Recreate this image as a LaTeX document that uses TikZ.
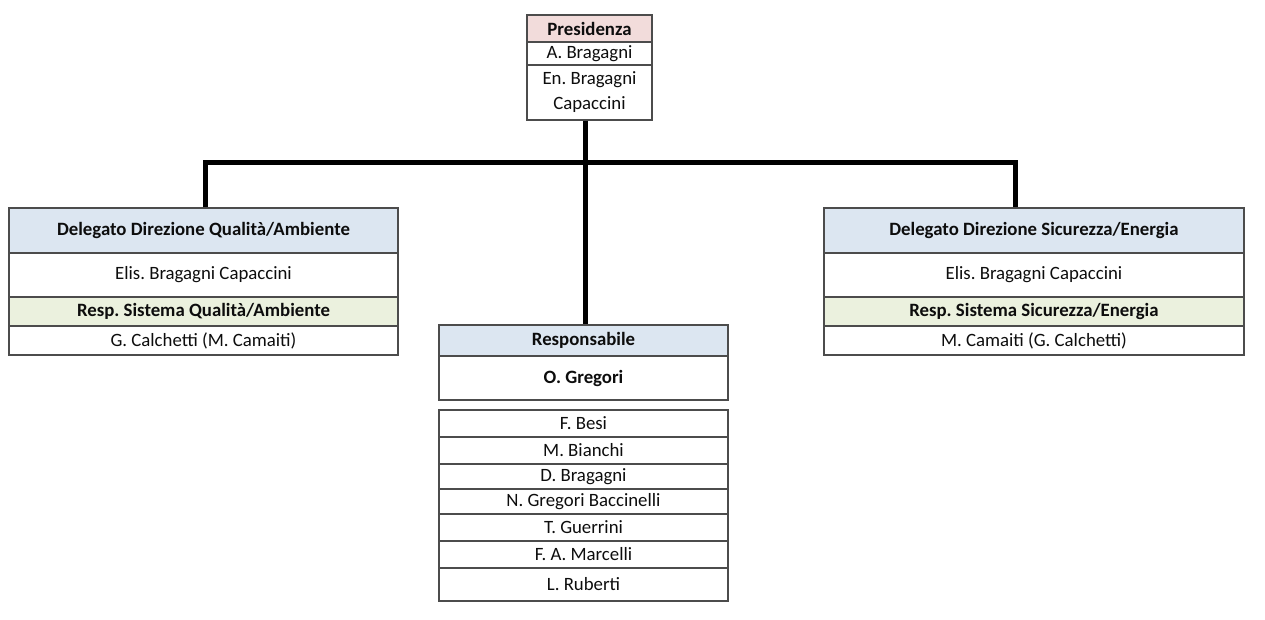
\documentclass[tikz,border=0pt]{standalone}
\usepackage{fontspec}
\setmainfont{Carlito}
\usepackage{xcolor}
\usepackage{tikz}
\frenchspacing
\definecolor{presred}{HTML}{F2DCDB}
\definecolor{headblue}{HTML}{DCE6F1}
\definecolor{respgreen}{HTML}{EBF1DE}
\tikzset{
	cell/.style={draw=black!70, line width=0.8pt, inner sep=0pt, align=center,
		text=black!95, font=\fontsize{14.1}{18.75}\selectfont},
	bcell/.style={cell, font=\fontsize{14.1}{18.75}\selectfont\bfseries},
	link/.style={line width=3.75pt}
}
\begin{document}
\begin{tikzpicture}[x=0.75pt,y=-0.75pt]
		\useasboundingbox (0,0) rectangle (1265,620);
		% presidenza
		\node[bcell,fill=presred,minimum width=93.75pt,minimum height=20.25pt] (pres1) at (589.5,28.5) {Presidenza};
		\node[cell,minimum width=93.75pt,minimum height=17.25pt] (pres2) at (589.5,53.5) {A. Bragagni};
		\node[cell,minimum width=93.75pt,minimum height=41.25pt] (pres3) at (589.5,92.5) {En. Bragagni\\Capaccini};
		%
		\node[bcell,fill=headblue,minimum width=291.75pt,minimum height=33.75pt] (qa1) at (203.5,230.5) {Delegato Direzione Qualità/Ambiente};
		\node[cell,minimum width=291.75pt,minimum height=33pt] (qa2) at (203.5,275) {Elis. Bragagni Capaccini};
		\node[bcell,fill=respgreen,minimum width=291.75pt,minimum height=21.75pt] (qa3) at (203.5,311.5) {Resp. Sistema Qualità/Ambiente};
		\node[cell,minimum width=291.75pt,minimum height=21.75pt] (qa4) at (203.5,340.5) {G. Calchetti (M. Camaiti)};
		%
		\node[bcell,fill=headblue,minimum width=315pt,minimum height=33.75pt] (se1) at (1034,230.5) {Delegato Direzione Sicurezza/Energia};
		\node[cell,minimum width=315pt,minimum height=33pt] (se2) at (1034,275) {Elis. Bragagni Capaccini};
		\node[bcell,fill=respgreen,minimum width=315pt,minimum height=21.75pt] (se3) at (1034,311.5) {Resp. Sistema Sicurezza/Energia};
		\node[cell,minimum width=315pt,minimum height=21.75pt] (se4) at (1034,340.5) {M. Camaiti (G. Calchetti)};
		%
		\node[bcell,fill=headblue,minimum width=216.75pt,minimum height=23.25pt] (resp1) at (583.5,340.5) {Responsabile};
		\node[bcell,minimum width=216.75pt,minimum height=33pt] (resp2) at (583.5,378) {O. Gregori};
		%
		\node[cell,minimum width=216.75pt,minimum height=20.25pt] (op1) at (583.5,423.5) {F. Besi};
		\node[cell,minimum width=216.75pt,minimum height=20.25pt] (op2) at (583.5,450.5) {M. Bianchi};
		\node[cell,minimum width=216.75pt,minimum height=18.75pt] (op3) at (583.5,476.5) {D. Bragagni};
		\node[cell,minimum width=216.75pt,minimum height=18.75pt] (op4) at (583.5,501.5) {N. Gregori Baccinelli};
		\node[cell,minimum width=216.75pt,minimum height=20.25pt] (op5) at (583.5,527.5) {T. Guerrini};
		\node[cell,minimum width=216.75pt,minimum height=20.25pt] (op6) at (583.5,554.5) {F. A. Marcelli};
		\node[cell,minimum width=216.75pt,minimum height=24.75pt] (op7) at (583.5,584.5) {L. Ruberti};
		%
		\coordinate (bus) at (585,163);
		\coordinate (busL) at (205,163);
		\coordinate (busR) at (1015,163);
		\draw[link] (bus |- pres3.south) -- (bus |- resp1.north);
		\draw[link] (busL |- qa1.north) -- (busL) -- (busR) -- (busR |- se1.north);
\end{tikzpicture}
\end{document}
